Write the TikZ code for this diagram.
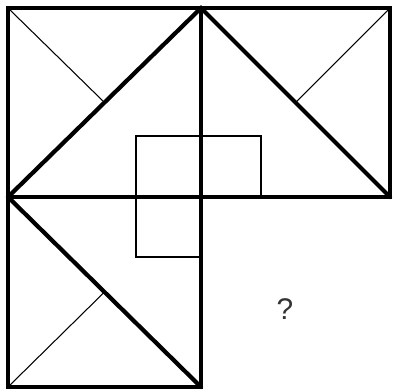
\documentclass[tikz,border=0pt]{standalone}
\usepackage{fontspec}
\setmainfont{Liberation Sans}
\usetikzlibrary{calc}
\tikzset{
  frame/.style={line width=2.2pt,line join=miter},
  heavy/.style={line width=2.4pt,line cap=round},
  fine/.style={line width=0.6pt},
  inner/.style={line width=0.8pt},
  mark q/.style={font=\fontsize{17}{20}\selectfont,text=black!80}
}
\begin{document}
\begin{tikzpicture}[x=0.02cm,y=-0.02cm]
  \useasboundingbox (0,0) rectangle (393,390);
  % corner points of the three squares
  \coordinate (tl) at (8,8);
  \coordinate (tm) at (201,8);
  \coordinate (tr) at (390,8);
  \coordinate (ml) at (8,197);
  \coordinate (c) at (201,197);
  \coordinate (mr) at (390,197);
  \coordinate (bl) at (8,387);
  \coordinate (bm) at (201,387);
  % thin diagonals to the middle of the heavy ones
  \draw[fine] (tl) -- ($(ml)!0.5!(tm)$);
  \draw[fine] (tr) -- ($(tm)!0.5!(mr)$);
  \draw[fine] (bl) -- ($(ml)!0.5!(bm)$);
  % small square, three quarters of it
  \draw[inner] (c) -- (261,197) -- (261,136) -- (136,136) -- (136,257) -- (201,257) -- cycle;
  % frames
  \draw[frame] (tl) rectangle (c);
  \draw[frame] (tm) rectangle (mr);
  \draw[frame] (ml) rectangle (bm);
  % heavy triangle and diagonal
  \draw[heavy] (ml) -- (tm) -- (mr);
  \draw[heavy] (ml) -- (bm);
  \node[mark q] (q) at (285,309) {?};
\end{tikzpicture}
\end{document}
